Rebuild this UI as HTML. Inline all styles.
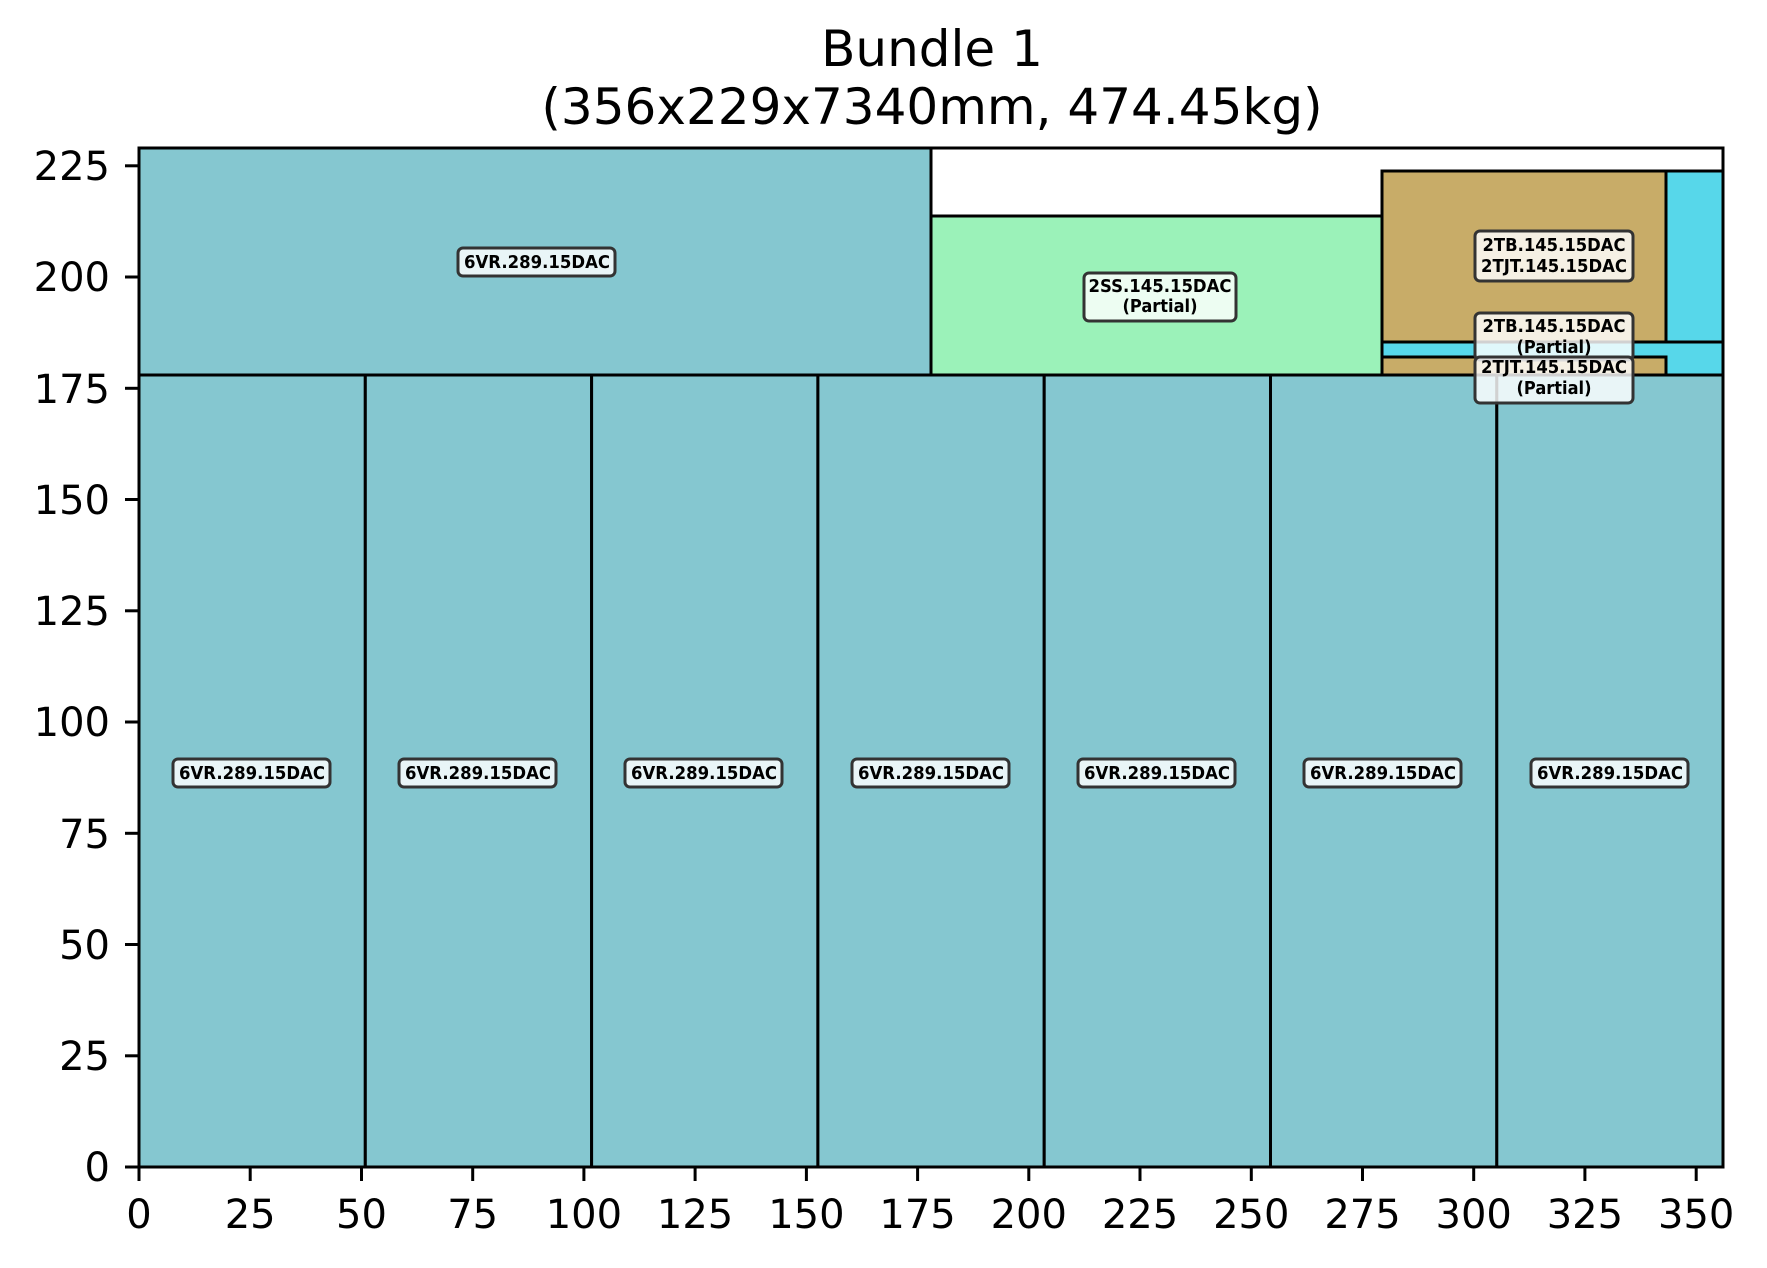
<!DOCTYPE html>
<html><head><meta charset="utf-8"><style>html,body{margin:0;padding:0;background:#fff}svg{display:block}</style></head>
<body>
<svg width="1767" height="1268" viewBox="0 0 1767 1268" xmlns="http://www.w3.org/2000/svg">
<g font-family="'DejaVu Sans','Liberation Sans',sans-serif" fill="#000">
<text x="932" y="66" font-size="50" text-anchor="middle">Bundle 1</text>
<text x="932" y="124" font-size="50" text-anchor="middle">(356x229x7340mm, 474.45kg)</text>
</g>
<g stroke="#000" stroke-width="3">
<rect x="139" y="148" width="792" height="227" fill="#85C7D0"/>
<rect x="139" y="375" width="226.3" height="792" fill="#85C7D0"/>
<rect x="365.3" y="375" width="226.3" height="792" fill="#85C7D0"/>
<rect x="591.6" y="375" width="226.3" height="792" fill="#85C7D0"/>
<rect x="817.9" y="375" width="226.3" height="792" fill="#85C7D0"/>
<rect x="1044.2" y="375" width="226.3" height="792" fill="#85C7D0"/>
<rect x="1270.5" y="375" width="226.3" height="792" fill="#85C7D0"/>
<rect x="1496.8" y="375" width="226.2" height="792" fill="#85C7D0"/>
<rect x="931" y="216" width="451" height="159" fill="#9BF2B9"/>
<rect x="1666" y="171" width="57" height="171" fill="#57D7EA"/>
<rect x="1382" y="342" width="341" height="33" fill="#57D7EA"/>
<rect x="1382" y="171" width="284" height="171" fill="#C8AC68"/>
<rect x="1382" y="357" width="284" height="18" fill="#C8AC68"/>
</g>
<rect x="139" y="148" width="1584" height="1019" fill="none" stroke="#000" stroke-width="3"/>
<g stroke="#000" stroke-width="3">
<line x1="139" y1="1167" x2="139" y2="1181"/><line x1="250.2" y1="1167" x2="250.2" y2="1181"/><line x1="361.5" y1="1167" x2="361.5" y2="1181"/><line x1="472.7" y1="1167" x2="472.7" y2="1181"/><line x1="583.9" y1="1167" x2="583.9" y2="1181"/><line x1="695.1" y1="1167" x2="695.1" y2="1181"/><line x1="806.4" y1="1167" x2="806.4" y2="1181"/><line x1="917.6" y1="1167" x2="917.6" y2="1181"/><line x1="1028.8" y1="1167" x2="1028.8" y2="1181"/><line x1="1140" y1="1167" x2="1140" y2="1181"/><line x1="1251.3" y1="1167" x2="1251.3" y2="1181"/><line x1="1362.5" y1="1167" x2="1362.5" y2="1181"/><line x1="1473.7" y1="1167" x2="1473.7" y2="1181"/><line x1="1584.9" y1="1167" x2="1584.9" y2="1181"/><line x1="1696.2" y1="1167" x2="1696.2" y2="1181"/>
<line x1="125" y1="1167" x2="139" y2="1167"/><line x1="125" y1="1055.8" x2="139" y2="1055.8"/><line x1="125" y1="944.5" x2="139" y2="944.5"/><line x1="125" y1="833.3" x2="139" y2="833.3"/><line x1="125" y1="722" x2="139" y2="722"/><line x1="125" y1="610.8" x2="139" y2="610.8"/><line x1="125" y1="499.5" x2="139" y2="499.5"/><line x1="125" y1="388.3" x2="139" y2="388.3"/><line x1="125" y1="277" x2="139" y2="277"/><line x1="125" y1="165.8" x2="139" y2="165.8"/>
</g>
<g font-family="'DejaVu Sans','Liberation Sans',sans-serif" font-size="40" fill="#000" text-anchor="middle">
<text x="139" y="1228">0</text><text x="250.2" y="1228">25</text><text x="361.5" y="1228">50</text><text x="472.7" y="1228">75</text><text x="583.9" y="1228">100</text><text x="695.1" y="1228">125</text><text x="806.4" y="1228">150</text><text x="917.6" y="1228">175</text><text x="1028.8" y="1228">200</text><text x="1140" y="1228">225</text><text x="1251.3" y="1228">250</text><text x="1362.5" y="1228">275</text><text x="1473.7" y="1228">300</text><text x="1584.9" y="1228">325</text><text x="1696.2" y="1228">350</text>
</g>
<g font-family="'DejaVu Sans','Liberation Sans',sans-serif" font-size="40" fill="#000" text-anchor="end">
<text x="110" y="1181">0</text><text x="110" y="1070">25</text><text x="110" y="959">50</text><text x="110" y="848">75</text><text x="110" y="736">100</text><text x="110" y="625">125</text><text x="110" y="514">150</text><text x="110" y="403">175</text><text x="110" y="291">200</text><text x="110" y="180">225</text>
</g>
<g stroke="#333" stroke-width="3" fill="#fff" fill-opacity="0.82">
<rect x="458" y="248" width="157" height="28" rx="5"/>
<rect x="173" y="759" width="157" height="28" rx="5"/>
<rect x="399" y="759" width="157" height="28" rx="5"/>
<rect x="625" y="759" width="157" height="28" rx="5"/>
<rect x="852" y="759" width="157" height="28" rx="5"/>
<rect x="1078" y="759" width="157" height="28" rx="5"/>
<rect x="1304" y="759" width="157" height="28" rx="5"/>
<rect x="1531" y="759" width="157" height="28" rx="5"/>
<rect x="1084" y="273" width="152" height="48" rx="5"/>
<rect x="1475" y="231" width="158" height="50" rx="5"/>
<rect x="1475" y="313" width="158" height="47" rx="5"/>
<rect x="1475" y="357" width="158" height="46" rx="5"/>
</g>
<g font-family="'DejaVu Sans','Liberation Sans',sans-serif" font-size="18" font-weight="bold" fill="#000" text-anchor="middle" lengthAdjust="spacingAndGlyphs">
<text x="537" y="268" textLength="146" lengthAdjust="spacingAndGlyphs">6VR.289.15DAC</text>
<text x="252" y="779" textLength="146" lengthAdjust="spacingAndGlyphs">6VR.289.15DAC</text>
<text x="478" y="779" textLength="146" lengthAdjust="spacingAndGlyphs">6VR.289.15DAC</text>
<text x="704" y="779" textLength="146" lengthAdjust="spacingAndGlyphs">6VR.289.15DAC</text>
<text x="931" y="779" textLength="146" lengthAdjust="spacingAndGlyphs">6VR.289.15DAC</text>
<text x="1157" y="779" textLength="146" lengthAdjust="spacingAndGlyphs">6VR.289.15DAC</text>
<text x="1383" y="779" textLength="146" lengthAdjust="spacingAndGlyphs">6VR.289.15DAC</text>
<text x="1610" y="779" textLength="146" lengthAdjust="spacingAndGlyphs">6VR.289.15DAC</text>
<text x="1160" y="292" textLength="143" lengthAdjust="spacingAndGlyphs">2SS.145.15DAC</text>
<text x="1160" y="312" textLength="75" lengthAdjust="spacingAndGlyphs">(Partial)</text>
<text x="1554" y="251" textLength="143" lengthAdjust="spacingAndGlyphs">2TB.145.15DAC</text>
<text x="1554" y="272" textLength="146" lengthAdjust="spacingAndGlyphs">2TJT.145.15DAC</text>
<text x="1554" y="332" textLength="143" lengthAdjust="spacingAndGlyphs">2TB.145.15DAC</text>
<text x="1554" y="353" textLength="75" lengthAdjust="spacingAndGlyphs">(Partial)</text>
<text x="1554" y="373" textLength="146" lengthAdjust="spacingAndGlyphs">2TJT.145.15DAC</text>
<text x="1554" y="394" textLength="75" lengthAdjust="spacingAndGlyphs">(Partial)</text>
</g>
</svg>
</body></html>
